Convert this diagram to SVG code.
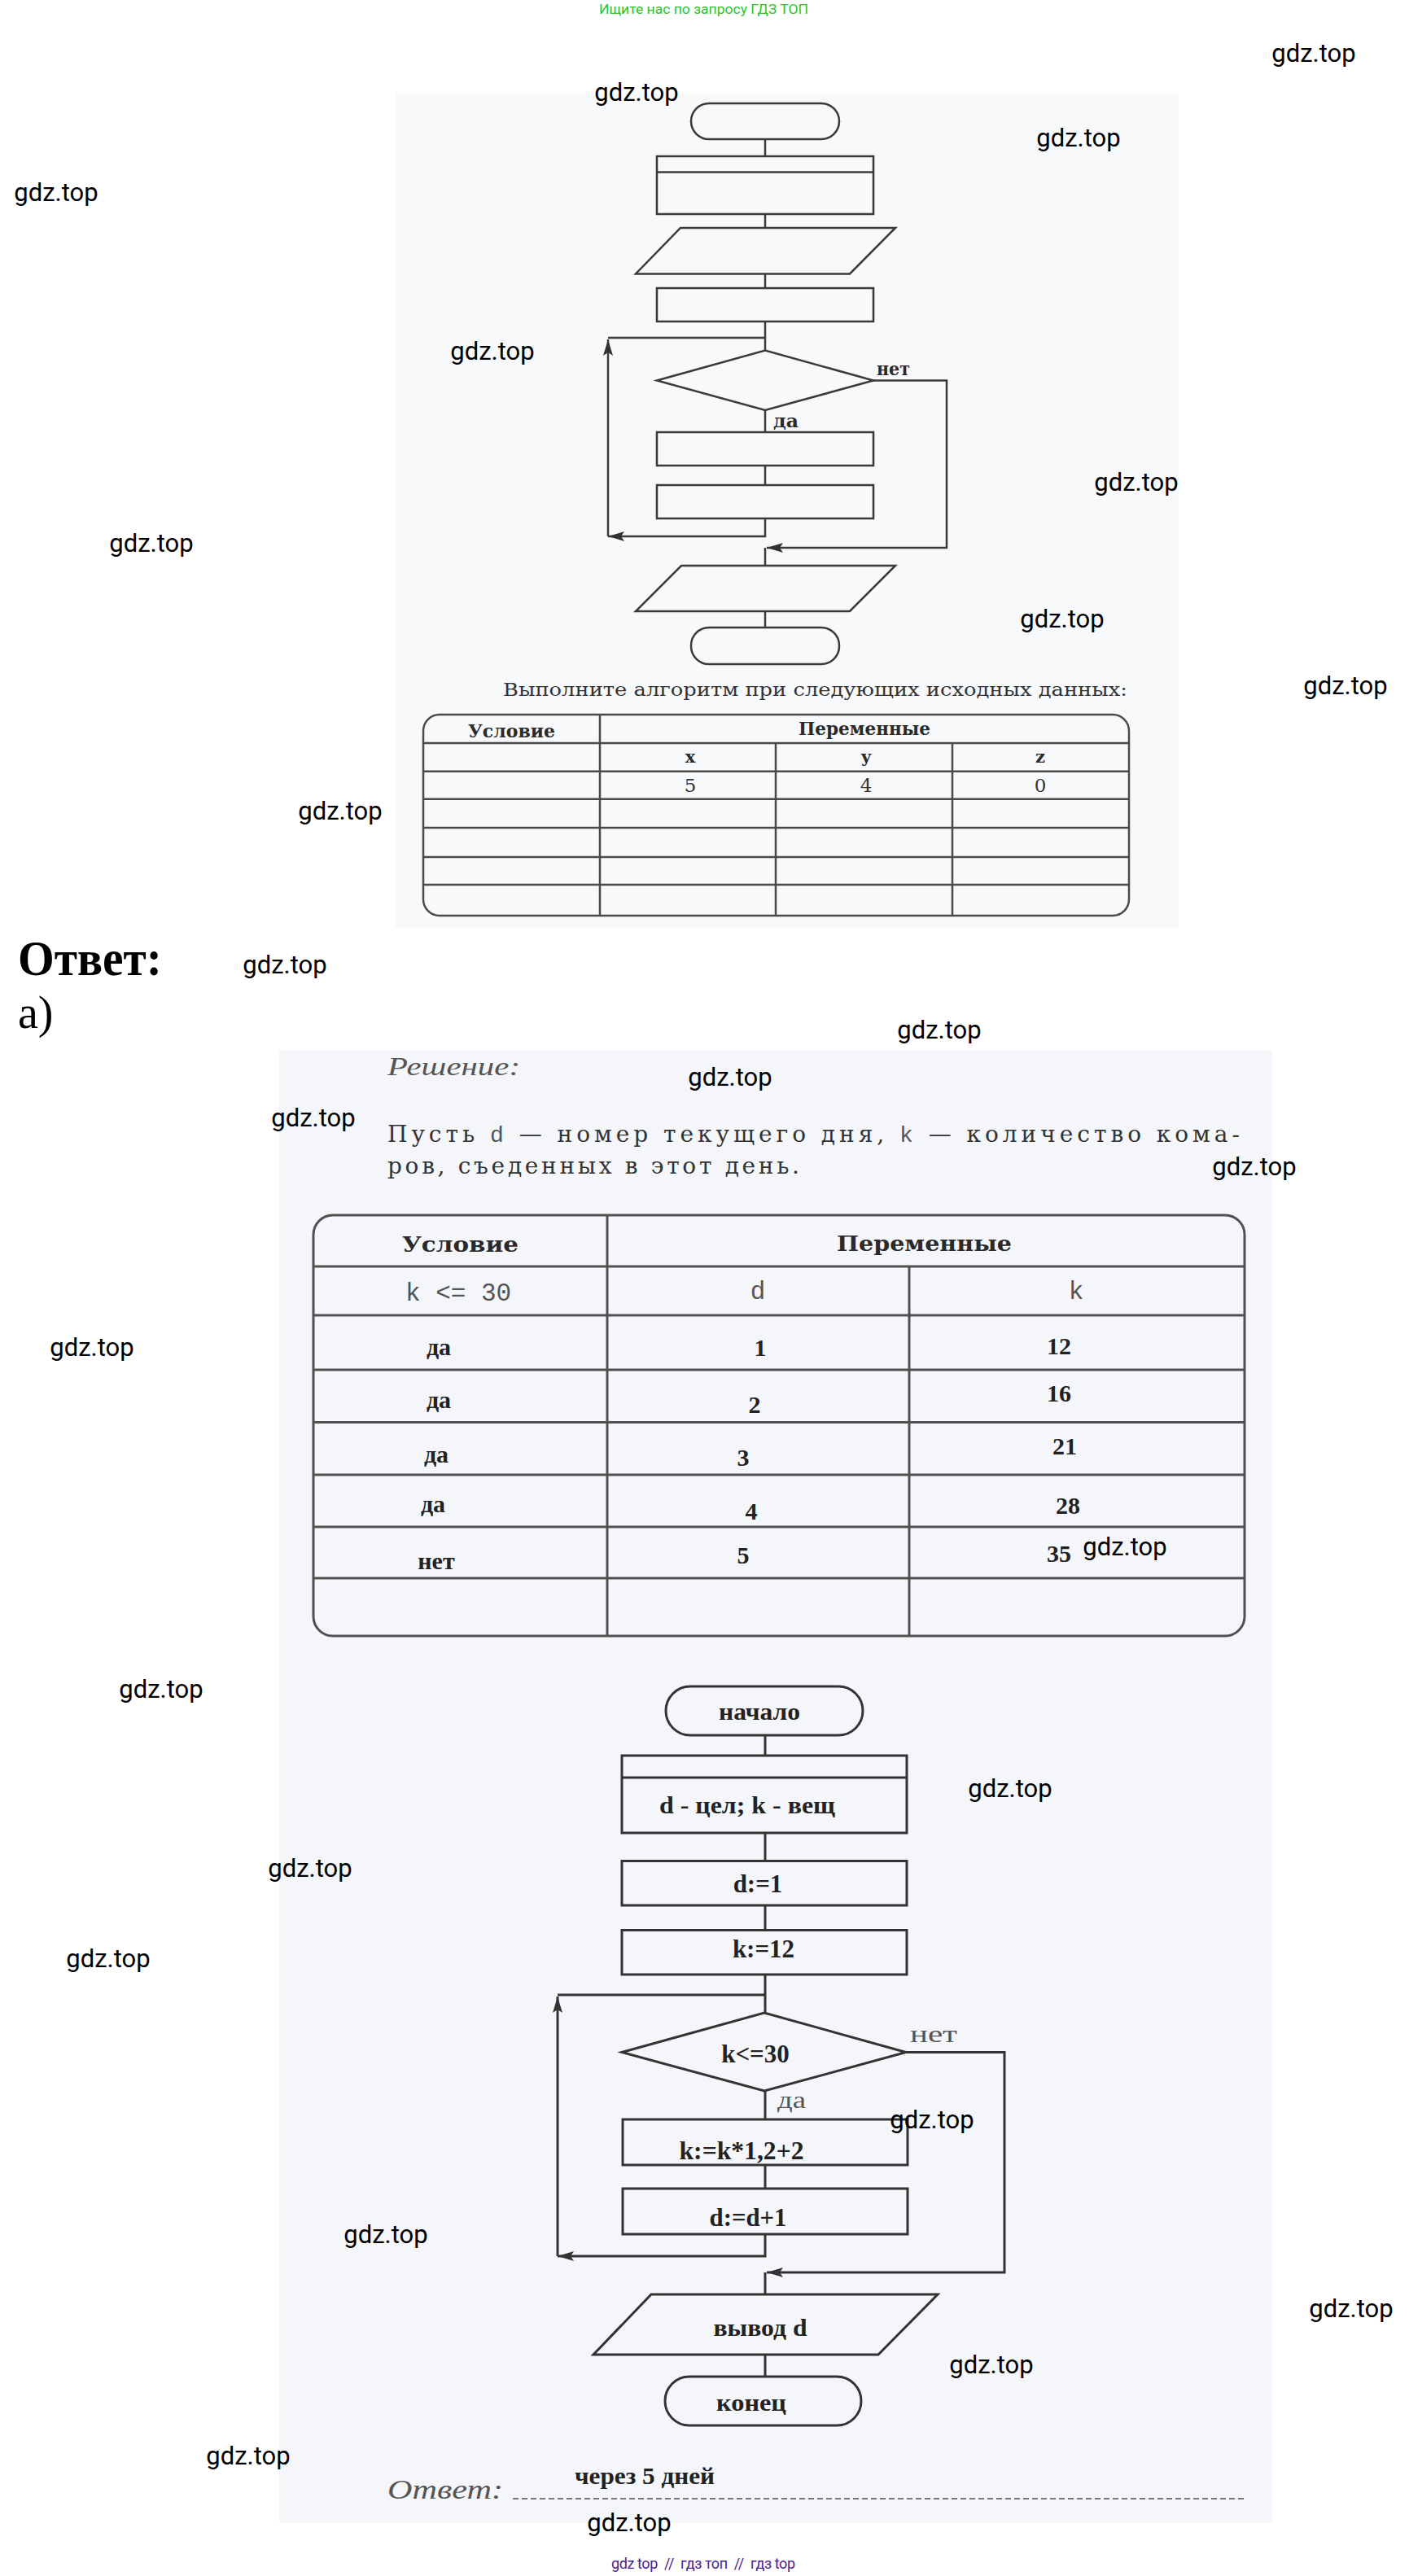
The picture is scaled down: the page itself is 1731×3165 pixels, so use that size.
<svg xmlns="http://www.w3.org/2000/svg" width="1731" height="3165" viewBox="0 0 1731 3165">
<style>
.wm{font-family:Roboto,'Liberation Sans',sans-serif;font-size:31px;fill:#000;text-anchor:middle}
.sh{fill:none;stroke:#3a3a3a;stroke-width:2.5}
.sh2{fill:none;stroke:#333;stroke-width:3}
.cn{fill:none;stroke:#3a3a3a;stroke-width:2.5}
.cn2{fill:none;stroke:#333;stroke-width:3}
.tl{stroke:#4a4a4a;stroke-width:2.5;fill:none}
.tl2{stroke:#505050;stroke-width:3;fill:none}
.sch{font-family:'DejaVu Serif',serif;fill:#333}
.schb{font-family:'DejaVu Serif',serif;font-weight:bold;fill:#2a2a2a}
.tnb{font-family:'Liberation Serif',serif;font-weight:bold;fill:#222;text-anchor:middle}
.tn{font-family:'Liberation Serif',serif;fill:#555}
.mono{font-family:'Liberation Mono',monospace;fill:#555}
</style>
<defs>
<marker id="arr" markerUnits="userSpaceOnUse" markerWidth="22" markerHeight="14" refX="20" refY="6" orient="auto">
<path d="M0,0 L20,6 L0,12 L4,6 z" fill="#333"/>
</marker>
</defs>
<rect x="0" y="0" width="1731" height="3165" fill="#fff"/>

<!-- header / footer -->
<text x="736" y="17" font-family="Roboto,'Liberation Sans',sans-serif" font-size="16" fill="#2bc42b" textLength="257" lengthAdjust="spacingAndGlyphs">Ищите нас по запросу ГДЗ ТОП</text>
<text x="751" y="3156" font-family="Roboto,'Liberation Sans',sans-serif" font-size="18" fill="#4b1e8c" textLength="226" lengthAdjust="spacing" xml:space="preserve">gdz top  //  гдз топ  //  гдз top</text>

<!-- scan backgrounds -->
<rect x="486" y="115" width="962" height="1025" fill="#f7f9fb"/>
<rect x="343" y="1290" width="1220" height="1810" fill="#f4f6f9"/>

<!-- ================= Flowchart 1 ================= -->
<g id="fc1-start"><rect class="sh" x="849" y="127" width="182" height="44" rx="22"/></g>
<g id="fc1-decl"><rect class="sh" x="807" y="192" width="266" height="71"/><line class="sh" x1="807" y1="211.5" x2="1073" y2="211.5"/></g>
<g id="fc1-input"><polygon class="sh" points="836,280 1100,280 1044,336.5 781,336.5"/></g>
<g id="fc1-init"><rect class="sh" x="807" y="354" width="266" height="41"/></g>
<g id="fc1-cond"><polygon class="sh" points="807,467.5 940,430.5 1073,467.5 940,504"/></g>
<g id="fc1-body1"><rect class="sh" x="807" y="531" width="266" height="41"/></g>
<g id="fc1-body2"><rect class="sh" x="807" y="596" width="266" height="41"/></g>
<g id="fc1-output"><polygon class="sh" points="837,695 1100,695 1044,751 781,751"/></g>
<g id="fc1-end"><rect class="sh" x="849" y="771" width="182" height="45" rx="22"/></g>
<g id="fc1-connectors">
<path class="cn" d="M940,171 V192"/>
<path class="cn" d="M940,263 V280"/>
<path class="cn" d="M940,336.5 V354"/>
<path class="cn" d="M940,395 V430.5"/>
<path class="cn" d="M940,504 V531"/>
<path class="cn" d="M940,572 V596"/>
<path class="cn" d="M940,637 V659 H747" marker-end="url(#arr)"/>
<path class="cn" d="M747,659 V417" marker-end="url(#arr)"/>
<path class="cn" d="M747,415 H940"/>
<path class="cn" d="M1073,467.5 H1163 V673 H942" marker-end="url(#arr)"/>
<path class="cn" d="M940,673 V695"/>
<path class="cn" d="M940,751 V771"/>
<text class="schb" x="1077" y="461" font-size="22" textLength="41" lengthAdjust="spacingAndGlyphs">нет</text>
<text class="schb" x="950" y="525" font-size="22" textLength="31" lengthAdjust="spacingAndGlyphs">да</text>
</g>

<text class="sch" x="618" y="855" font-size="23" textLength="767" lengthAdjust="spacingAndGlyphs">Выполните алгоритм при следующих исходных данных:</text>

<!-- ================= Table 1 ================= -->
<g id="table1">
<rect class="tl" x="520" y="878" width="867" height="247" rx="20"/>
<path class="tl" d="M520,913 H1387 M520,947.7 H1387 M520,981.7 H1387 M520,1017 H1387 M520,1053 H1387 M520,1087 H1387"/>
<path class="tl" d="M737,878 V1125 M953,913 V1125 M1170,913 V1125"/>
<text class="schb" x="575" y="906" font-size="22" textLength="107" lengthAdjust="spacingAndGlyphs">Условие</text>
<text class="schb" x="981" y="903" font-size="22" textLength="162" lengthAdjust="spacingAndGlyphs">Переменные</text>
<text class="schb" x="848" y="937" font-size="21" text-anchor="middle">x</text>
<text class="schb" x="1064" y="937" font-size="21" text-anchor="middle">y</text>
<text class="schb" x="1278" y="937" font-size="21" text-anchor="middle">z</text>
<text class="sch" x="848" y="973" font-size="23" text-anchor="middle">5</text>
<text class="sch" x="1064" y="973" font-size="23" text-anchor="middle">4</text>
<text class="sch" x="1278" y="973" font-size="23" text-anchor="middle">0</text>
</g>

<!-- answer heading -->
<text x="22" y="1198" font-family="'Liberation Serif',serif" font-weight="bold" font-size="62" fill="#000" textLength="177" lengthAdjust="spacingAndGlyphs">Ответ:</text>
<text x="22" y="1263" font-family="'Liberation Serif',serif" font-size="56" fill="#000">а)</text>

<!-- solution text -->
<text class="tn" x="476" y="1321" font-size="31" font-style="italic" fill="#444" textLength="163" lengthAdjust="spacingAndGlyphs">Решение:</text>
<text class="sch" x="476" y="1403" font-size="28" fill="#3a3a3a" textLength="1047" lengthAdjust="spacing">Пусть <tspan class="mono" fill="#888">d</tspan> — номер текущего дня, <tspan class="mono" fill="#888">k</tspan> — количество кома-</text>
<text class="sch" x="476" y="1442" font-size="28" fill="#3a3a3a" textLength="506" lengthAdjust="spacing">ров, съеденных в этот день.</text>

<!-- ================= Table 2 ================= -->
<g id="table2">
<rect class="tl2" x="385" y="1493" width="1144" height="517" rx="24"/>
<path class="tl2" d="M385,1556 H1529 M385,1616 H1529 M385,1683 H1529 M385,1747.5 H1529 M385,1812 H1529 M385,1876 H1529 M385,1939 H1529"/>
<path class="tl2" d="M746,1493 V2010 M1117,1556 V2010"/>
<text class="schb" x="494" y="1538" font-size="26" textLength="143" lengthAdjust="spacingAndGlyphs">Условие</text>
<text class="schb" x="1028" y="1537" font-size="26" textLength="215" lengthAdjust="spacingAndGlyphs">Переменные</text>
<text class="mono" x="498" y="1598" font-size="31" fill="#444">k &lt;= 30</text>
<text class="mono" x="931" y="1596" font-size="31" fill="#444" text-anchor="middle">d</text>
<text class="mono" x="1322" y="1596" font-size="31" fill="#444" text-anchor="middle">k</text>
<text class="tnb" x="539" y="1665" font-size="30">да</text>
<text class="tnb" x="934" y="1666" font-size="30">1</text>
<text class="tnb" x="1301" y="1664" font-size="30">12</text>
<text class="tnb" x="539" y="1730" font-size="30">да</text>
<text class="tnb" x="927" y="1736" font-size="30">2</text>
<text class="tnb" x="1301" y="1722" font-size="30">16</text>
<text class="tnb" x="536" y="1797" font-size="30">да</text>
<text class="tnb" x="913" y="1801" font-size="30">3</text>
<text class="tnb" x="1308" y="1787" font-size="30">21</text>
<text class="tnb" x="532" y="1858" font-size="30">да</text>
<text class="tnb" x="923" y="1867" font-size="30">4</text>
<text class="tnb" x="1312" y="1860" font-size="30">28</text>
<text class="tnb" x="536" y="1928" font-size="30">нет</text>
<text class="tnb" x="913" y="1921" font-size="30">5</text>
<text class="tnb" x="1301" y="1919" font-size="30">35</text>
</g>

<!-- ================= Flowchart 2 ================= -->
<g id="fc2-start"><rect class="sh2" x="818" y="2072" width="242" height="60" rx="30"/><text class="tnb" x="933" y="2113" font-size="30" textLength="100" lengthAdjust="spacingAndGlyphs">начало</text></g>
<g id="fc2-decl"><rect class="sh2" x="764" y="2157" width="350" height="95"/><line class="sh2" x1="764" y1="2184" x2="1114" y2="2184"/><text class="tnb" x="918" y="2228" font-size="30" textLength="216" lengthAdjust="spacingAndGlyphs">d - цел; k - вещ</text></g>
<g id="fc2-d1"><rect class="sh2" x="764" y="2286.5" width="350" height="54.5"/><text class="tnb" x="931" y="2325" font-size="31">d:=1</text></g>
<g id="fc2-k12"><rect class="sh2" x="764" y="2371.5" width="350" height="54.5"/><text class="tnb" x="938" y="2405" font-size="31">k:=12</text></g>
<g id="fc2-cond"><polygon class="sh2" points="764,2521.5 939,2473 1113,2521.5 939,2569"/><text class="tnb" x="928" y="2534" font-size="31">k&lt;=30</text></g>
<g id="fc2-k"><rect class="sh2" x="765" y="2604" width="350" height="56"/><text class="tnb" x="911" y="2653" font-size="31" textLength="153" lengthAdjust="spacingAndGlyphs">k:=k*1,2+2</text></g>
<g id="fc2-d"><rect class="sh2" x="765" y="2689" width="350" height="56"/><text class="tnb" x="919" y="2735" font-size="31" textLength="95" lengthAdjust="spacingAndGlyphs">d:=d+1</text></g>
<g id="fc2-out"><polygon class="sh2" points="800,2819 1152,2819 1079,2893 729,2893"/><text class="tnb" x="934" y="2870" font-size="30" textLength="115" lengthAdjust="spacingAndGlyphs">вывод d</text></g>
<g id="fc2-end"><rect class="sh2" x="817" y="2920" width="241" height="60" rx="30"/><text class="tnb" x="923" y="2962" font-size="30" textLength="86" lengthAdjust="spacingAndGlyphs">конец</text></g>
<g id="fc2-connectors">
<path class="cn2" d="M940,2132 V2157"/>
<path class="cn2" d="M940,2252 V2286.5"/>
<path class="cn2" d="M940,2341 V2371.5"/>
<path class="cn2" d="M940,2426 V2473"/>
<path class="cn2" d="M940,2569 V2604"/>
<path class="cn2" d="M940,2660 V2689"/>
<path class="cn2" d="M940,2745 V2772 H685" marker-end="url(#arr)"/>
<path class="cn2" d="M685,2772 V2453" marker-end="url(#arr)"/>
<path class="cn2" d="M685,2451 H940"/>
<path class="cn2" d="M1113,2521.5 H1234 V2792 H942" marker-end="url(#arr)"/>
<path class="cn2" d="M940,2792 V2819"/>
<path class="cn2" d="M940,2893 V2920"/>
<text class="tn" x="1118" y="2509" font-size="30" textLength="58" lengthAdjust="spacingAndGlyphs">нет</text>
<text class="tn" x="955" y="2590" font-size="30" textLength="35" lengthAdjust="spacingAndGlyphs">да</text>
</g>

<!-- answer line -->
<text class="tn" x="476" y="3070" font-size="34" font-style="italic" textLength="142" lengthAdjust="spacingAndGlyphs">Ответ:</text>
<line x1="630" y1="3070" x2="1528" y2="3070" stroke="#777" stroke-width="2" stroke-dasharray="7 4"/>
<text x="706" y="3052" font-family="'Liberation Serif',serif" font-weight="bold" font-size="29" fill="#222" textLength="172" lengthAdjust="spacingAndGlyphs">через 5 дней</text>

<!-- watermarks -->
<g id="watermarks">
<text class="wm" x="1614" y="76">gdz.top</text>
<text class="wm" x="782" y="124">gdz.top</text>
<text class="wm" x="1325" y="180">gdz.top</text>
<text class="wm" x="69" y="247">gdz.top</text>
<text class="wm" x="605" y="442">gdz.top</text>
<text class="wm" x="1396" y="603">gdz.top</text>
<text class="wm" x="186" y="678">gdz.top</text>
<text class="wm" x="1305" y="771">gdz.top</text>
<text class="wm" x="1653" y="853">gdz.top</text>
<text class="wm" x="418" y="1007">gdz.top</text>
<text class="wm" x="350" y="1196">gdz.top</text>
<text class="wm" x="1154" y="1276">gdz.top</text>
<text class="wm" x="897" y="1334">gdz.top</text>
<text class="wm" x="385" y="1384">gdz.top</text>
<text class="wm" x="1541" y="1444">gdz.top</text>
<text class="wm" x="113" y="1666">gdz.top</text>
<text class="wm" x="1382" y="1911">gdz.top</text>
<text class="wm" x="198" y="2086">gdz.top</text>
<text class="wm" x="1241" y="2208">gdz.top</text>
<text class="wm" x="381" y="2306">gdz.top</text>
<text class="wm" x="133" y="2417">gdz.top</text>
<text class="wm" x="1145" y="2615">gdz.top</text>
<text class="wm" x="474" y="2756">gdz.top</text>
<text class="wm" x="1660" y="2847">gdz.top</text>
<text class="wm" x="1218" y="2916">gdz.top</text>
<text class="wm" x="305" y="3028">gdz.top</text>
<text class="wm" x="773" y="3110">gdz.top</text>
</g>
</svg>
